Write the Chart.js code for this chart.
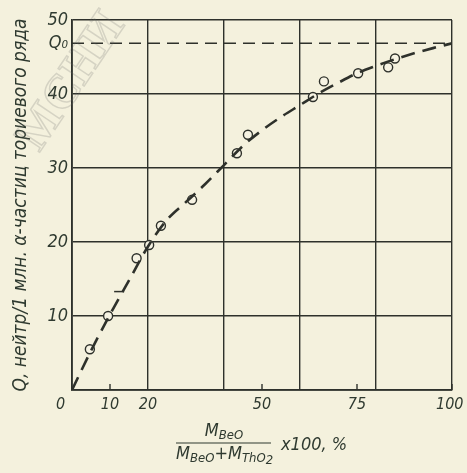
<!DOCTYPE html>
<html><head><meta charset="utf-8">
<script src="https://cdn.jsdelivr.net/npm/chart.js@4"></script>
<style>html,body{margin:0;padding:0;background:#f4f1dd;}#wrap{width:467px;height:473px;position:relative}</style>
</head><body><div id="wrap"><canvas id="c" width="467" height="473"></canvas></div>
<script>
// measured points (hollow circles)
const pointX = [4.7, 9.5, 17.0, 20.3, 23.4, 31.6, 43.4, 46.3, 63.4, 66.3, 75.3, 83.2, 85.0];
const pointY = [5.5, 10.0, 17.8, 19.6, 22.2, 25.7, 32.0, 34.5, 39.6, 41.7, 42.8, 43.6, 44.8];
// cross mark
const crossX = [12.4];
const crossY = [13.3];
// dashed fitted curve
const curveX = [0, 5, 10, 15, 20, 25, 30, 35, 40, 45, 50, 55, 60, 65, 70, 75, 80, 85, 90, 95, 100];
const curveY = [0, 5.3, 10.2, 14.8, 19.4, 23.0, 25.4, 27.8, 30.4, 33.0, 35.1, 36.9, 38.5, 40.1, 41.5, 42.8, 43.8, 44.7, 45.5, 46.2, 46.85];
const Q0 = 46.85;
const xTickValues = [0, 10, 20, 40, 50, 60, 75, 80, 100];
const xTickLabels = ['0     ', '10', '20', '', '50', '', '75', '', '100 '];
const xGridValues = [0, 20, 40, 60, 80, 100];
const xMinorTicks = [10, 50, 75, 100];
const yTickValues = [0, 10, 20, 30, 40, Q0, 50];
const yTickLabels = ['', '10', '20', '30', '40', 'Q₀', '50'];
const yTitle = 'Q, нейтр/1 млн. α-частиц ториевого ряда';

const INK = '#2e312b';
const TXT = '#2f3a30';
const FONT = "'Liberation Sans Narrow', 'DejaVu Sans Condensed', sans-serif";

const extras = {
  id: 'extras',
  afterDatasetsDraw(chart) {
    const c = chart.ctx, xs = chart.scales.x, ys = chart.scales.y;
    c.save();
    // inner minor ticks on x axis
    c.strokeStyle = INK; c.lineWidth = 1.4;
    xMinorTicks.forEach(v => {
      const px = xs.getPixelForValue(v);
      c.beginPath(); c.moveTo(px, ys.bottom); c.lineTo(px, ys.bottom - 6); c.stroke();
    });
    // x axis title as fraction
    const ca = chart.chartArea;
    const cx = ca.left + (ca.right - ca.left) * 0.40;
    const lineY = ys.bottom + 53;
    c.fillStyle = TXT; c.strokeStyle = TXT; c.lineWidth = 1.2;
    c.beginPath(); c.moveTo(cx - 48, lineY); c.lineTo(cx + 47, lineY); c.stroke();
    c.textBaseline = 'alphabetic';
    c.textAlign = 'left';
    const big = "italic 18px " + FONT, small = "italic 13px " + FONT;
    function run(parts, x, y) {
      parts.forEach(p => {
        c.font = p[1] ? small : big;
        c.fillText(p[0], x, y + (p[1] ? p[1] * 2 + 1 : 0));
        x += c.measureText(p[0]).width;
      });
      return x;
    }
    function width(parts) {
      let w = 0;
      parts.forEach(p => { c.font = p[1] ? small : big; w += c.measureText(p[0]).width; });
      return w;
    }
    const num = [['M', 0], ['BeO', 1]];
    run(num, cx - width(num) / 2, lineY - 7);
    const den = [['M', 0], ['BeO', 1], ['+', 0], ['M', 0], ['ThO', 1], ['2', 2]];
    run(den, cx - 48, lineY + 16);
    c.font = "italic 18px " + FONT;
    c.fillText('x100, %', cx + 57, lineY + 7);
    // watermark
    c.globalAlpha = 0.22;
    c.translate(72, 82);
    c.rotate(-0.98);
    c.font = "bold 48px 'Liberation Serif', serif";
    c.textAlign = 'center'; c.textBaseline = 'middle';
    c.strokeStyle = '#6b6b6b'; c.lineWidth = 1.5;
    c.strokeText('МСНИ', 0, 0);
    c.restore();
  }
};

new Chart(document.getElementById('c'), {
  type: 'scatter',
  data: {
    datasets: [
      {
        type: 'line',
        data: curveX.map((x, i) => ({ x, y: curveY[i] })),
        borderColor: INK, borderWidth: 2.6, borderDash: [14, 8],
        pointRadius: 0, cubicInterpolationMode: 'monotone', fill: false
      },
      {
        type: 'line',
        data: [{ x: 0, y: Q0 }, { x: 100, y: Q0 }],
        borderColor: INK, borderWidth: 1.6, borderDash: [12, 7],
        pointRadius: 0, fill: false
      },
      {
        data: pointX.map((x, i) => ({ x, y: pointY[i] })),
        pointStyle: 'circle', pointRadius: 4.5,
        backgroundColor: '#f6f3e3', borderColor: INK, borderWidth: 1.4
      },
      {
        data: crossX.map((x, i) => ({ x, y: crossY[i] })),
        pointStyle: 'line', pointRadius: 5, borderColor: INK, borderWidth: 1.5
      }
    ]
  },
  options: {
    responsive: false, animation: false,
    plugins: { legend: { display: false }, tooltip: { enabled: false } },
    layout: { padding: { top: 20, right: 15, left: 0, bottom: 0 } },
    scales: {
      x: {
        type: 'linear', min: 0, max: 100,
        afterBuildTicks: s => { s.ticks = xTickValues.map(v => ({ value: v })); },
        afterFit: s => { s.height = 83; s.paddingLeft = 0; s.paddingRight = 0; },
        ticks: {
          autoSkip: false, maxRotation: 0, padding: 5, color: TXT,
          font: { family: FONT, size: 16, style: 'italic' },
          callback: v => { const i = xTickValues.indexOf(v); return i < 0 ? '' : xTickLabels[i]; }
        },
        grid: {
          drawTicks: false, lineWidth: 1.4,
          color: ctx => (ctx.tick && xGridValues.includes(ctx.tick.value)) ? INK : 'rgba(0,0,0,0)'
        },
        border: { color: INK, width: 1.8 }
      },
      y: {
        type: 'linear', min: 0, max: 50,
        afterBuildTicks: s => { s.ticks = yTickValues.map(v => ({ value: v })); },
        afterFit: s => { s.width = 72; s.paddingTop = 0; s.paddingBottom = 0; },
        ticks: {
          autoSkip: false, padding: 4, color: TXT,
          font: { family: FONT, size: 18, style: 'italic' },
          callback: v => { const i = yTickValues.indexOf(v); return i < 0 ? '' : yTickLabels[i]; }
        },
        grid: {
          drawTicks: false, lineWidth: 1.4,
          color: ctx => (ctx.tick && ctx.tick.value === Q0) ? 'rgba(0,0,0,0)' : INK
        },
        border: { color: INK, width: 1.8 },
        title: {
          display: true, text: yTitle, color: TXT,
          font: { family: FONT, size: 19, style: 'italic' },
          padding: { top: 10, bottom: 0 }
        }
      }
    }
  },
  plugins: [extras]
});
</script>
</body></html>
